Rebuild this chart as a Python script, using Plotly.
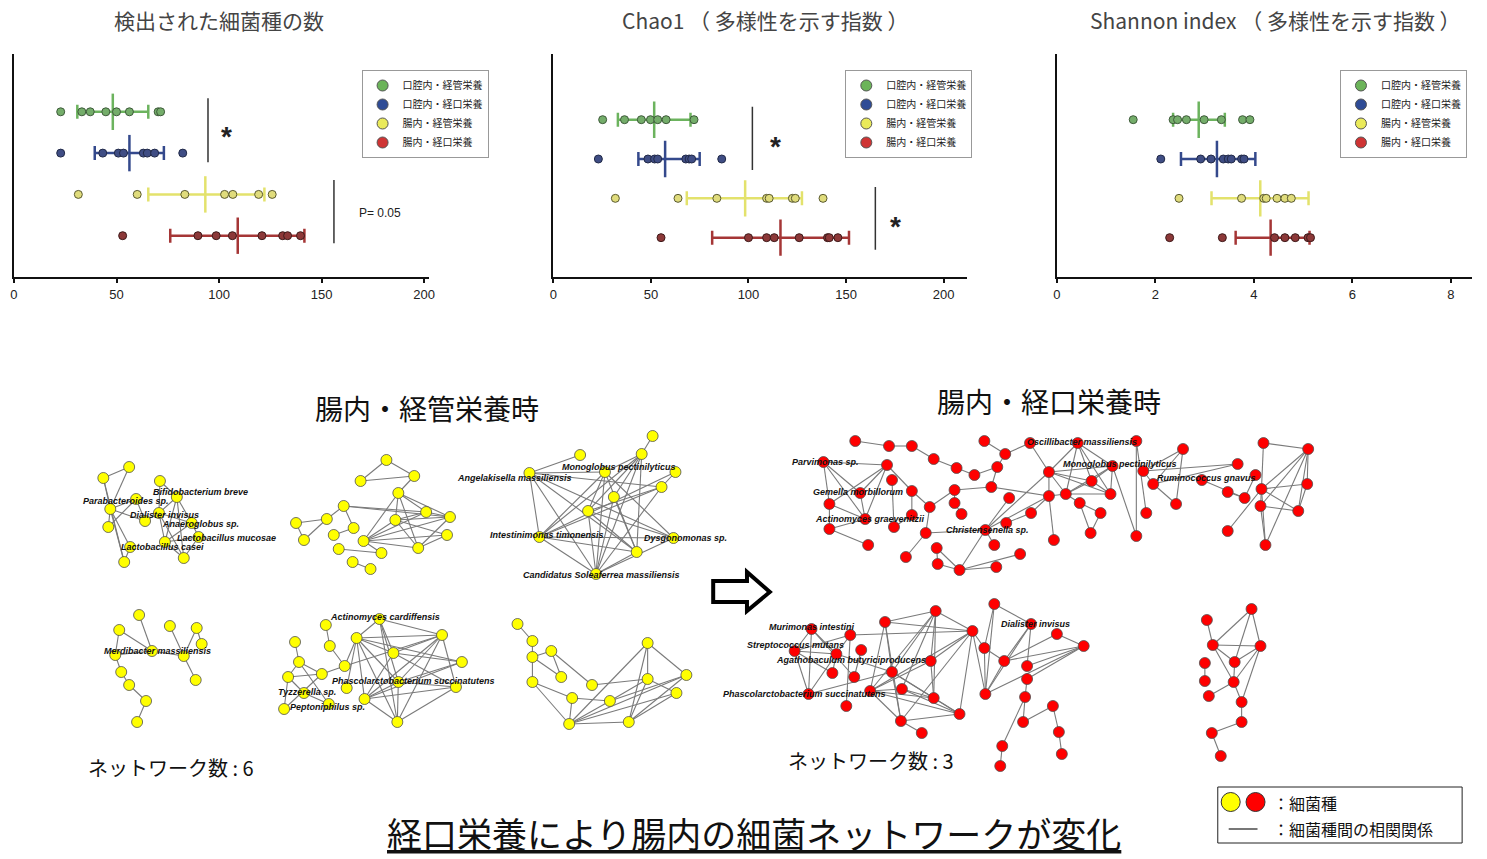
import plotly.graph_objects as go

W, H = 1487, 859
JP = "Noto Sans CJK JP"
LAT = "Liberation Sans, Arial, sans-serif"

GROUPS = ["口腔内・経管栄養", "口腔内・経口栄養", "腸内・経管栄養", "腸内・経口栄養"]
ROWS = [4, 3, 2, 1]

# ---------- Panel 1 : number of detected species ----------
species_pts = [
    [22.8, 33.1, 37.2, 44.8, 50.0, 56.3, 70.3, 71.5],
    [22.8, 43.3, 50.9, 53.4, 63.1, 65.0, 68.6, 82.3],
    [31.4, 60.1, 83.3, 102.7, 106.7, 119.3, 125.9],
    [53.0, 89.7, 98.6, 106.5, 120.9, 131.0, 133.4, 139.7],
]
species_mean = [48.2, 56.3, 93.3, 109.1]
species_lo = [30.9, 39.4, 65.5, 76.2]
species_hi = [65.5, 73.1, 122.1, 141.6]

# ---------- Panel 2 : Chao1 ----------
chao_pts = [
    [25.3, 36.5, 45.1, 49.8, 53.5, 57.8, 72.1],
    [23.1, 48.5, 51.9, 53.5, 67.9, 69.6, 70.9, 86.3],
    [31.8, 63.9, 83.8, 109.3, 110.6, 122.5, 124.0, 138.2],
    [55.2, 100.0, 109.3, 113.2, 126.0, 140.5, 141.4, 145.8],
]
chao_mean = [51.7, 57.3, 98.3, 116.4]
chao_lo = [33.1, 43.6, 68.4, 81.4]
chao_hi = [70.3, 75.0, 127.4, 151.5]

# ---------- Panel 3 : Shannon ----------
shannon_pts = [
    [1.55, 2.36, 2.45, 2.63, 2.99, 3.34, 3.77, 3.92],
    [2.11, 2.92, 3.13, 3.38, 3.48, 3.54, 3.75, 3.80],
    [2.48, 3.75, 4.20, 4.25, 4.47, 4.63, 4.76],
    [2.29, 3.36, 4.42, 4.63, 4.84, 5.10, 5.15],
]
shannon_mean = [2.88, 3.25, 4.13, 4.34]
shannon_lo = [2.36, 2.52, 3.14, 3.63]
shannon_hi = [3.41, 4.03, 5.11, 5.13]

TICKS_123 = [[0, 50, 100, 150, 200], [0, 50, 100, 150, 200], [0, 2, 4, 6, 8]]

LINE_COLORS = ["#6cb35e", "#34498c", "#e3e26c", "#a53636"]
DOT_FILL = ["#74ad6a", "#3f4d84", "#e0dc7c", "#8c3838"]
DOT_EDGE = ["#3e5a3a", "#222a48", "#5a5a30", "#3e1a1a"]
LEG_COLORS = ["#6cb45a", "#2f4c96", "#eaea5a", "#cf3434"]

# ---------- network data (layout positions of nodes, as drawn) ----------
NET_A_NODES = [("a1", 100, 478), ("a2", 126, 467), ("a3", 157, 481), ("a4", 133, 499),
               ("a5", 174, 497), ("a6", 107, 509), ("a7", 156, 513), ("a8", 105, 527),
               ("a9", 142, 521), ("a10", 189, 523), ("a11", 196, 537), ("a12", 162, 542),
               ("a13", 127, 547), ("a14", 121, 562), ("a15", 181, 558)]
NET_A_EDGES = [("a1", "a2"), ("a1", "a6"), ("a1", "a14"), ("a2", "a6"), ("a6", "a4"), ("a6", "a9"),
               ("a4", "a9"), ("a4", "a8"), ("a6", "a8"), ("a6", "a13"), ("a6", "a14"), ("a13", "a14"),
               ("a3", "a5"), ("a3", "a7"), ("a5", "a7"), ("a5", "a10"), ("a5", "a12"), ("a5", "a15"),
               ("a7", "a10"), ("a7", "a12"), ("a7", "a15"), ("a10", "a11"), ("a10", "a12"),
               ("a11", "a12"), ("a11", "a15"), ("a12", "a15"), ("a7", "a9")]

NET_B_NODES = [("b1", 385, 460), ("b2", 359, 481), ("b3", 413, 476), ("b4", 397, 493), ("b5", 342, 506),
               ("b6", 425, 512), ("b7", 449, 517), ("b8", 294, 523), ("b9", 325, 519), ("b10", 394, 520),
               ("b11", 352, 528), ("b12", 332, 535), ("b13", 446, 535), ("b14", 302, 540),
               ("b15", 362, 541), ("b16", 417, 548), ("b17", 337, 549), ("b18", 380, 553),
               ("b19", 351, 562), ("b20", 369, 569)]
NET_B_EDGES = [("b1", "b2"), ("b1", "b3"), ("b2", "b3"), ("b3", "b4"), ("b4", "b10"), ("b4", "b15"),
               ("b4", "b16"), ("b4", "b6"), ("b4", "b7"), ("b5", "b9"), ("b5", "b11"), ("b5", "b6"),
               ("b5", "b7"), ("b8", "b9"), ("b8", "b14"), ("b14", "b9"), ("b12", "b11"), ("b15", "b10"),
               ("b15", "b6"), ("b15", "b7"), ("b15", "b13"), ("b15", "b16"), ("b15", "b18"),
               ("b10", "b7"), ("b10", "b16"), ("b10", "b13"), ("b10", "b6"), ("b6", "b7"), ("b7", "b16"),
               ("b13", "b16"), ("b17", "b18"), ("b19", "b20")]

NET_C_NODES = [("c1", 653, 436), ("c2", 642, 454), ("c3", 580, 455), ("c4", 529, 473), ("c5", 605, 472),
               ("c6", 676, 472), ("c7", 662, 487), ("c8", 614, 497), ("c9", 588, 511), ("c10", 539, 537),
               ("c11", 674, 538), ("c12", 637, 552), ("c13", 596, 574)]
NET_C_EDGES = [("c1", "c2"), ("c2", "c5"), ("c2", "c8"), ("c2", "c9"), ("c2", "c10"), ("c2", "c12"),
               ("c2", "c13"), ("c3", "c4"), ("c4", "c5"), ("c4", "c10"), ("c4", "c13"), ("c4", "c12"),
               ("c4", "c11"), ("c4", "c7"), ("c5", "c9"), ("c5", "c10"), ("c5", "c12"), ("c5", "c13"),
               ("c5", "c11"), ("c6", "c7"), ("c7", "c9"), ("c7", "c10"), ("c7", "c13"), ("c8", "c12"),
               ("c8", "c13"), ("c9", "c11"), ("c9", "c12"), ("c9", "c13"), ("c10", "c11"),
               ("c10", "c12"), ("c10", "c13"), ("c11", "c13"), ("c12", "c13"), ("c6", "c10")]

NET_D_NODES = [("d1", 136, 615), ("d2", 116, 630), ("d3", 167, 626), ("d4", 194, 628), ("d5", 199, 644),
               ("d6", 149, 651), ("d7", 112, 655), ("d8", 181, 656), ("d9", 118, 672), ("d10", 193, 680),
               ("d11", 126, 685), ("d12", 143, 701), ("d13", 134, 722)]
NET_D_EDGES = [("d1", "d6"), ("d2", "d6"), ("d2", "d7"), ("d7", "d6"), ("d6", "d8"), ("d3", "d8"),
               ("d4", "d8"), ("d4", "d5"), ("d8", "d10"), ("d7", "d9"), ("d9", "d11"), ("d11", "d12"),
               ("d12", "d13")]

NET_E_NODES = [("e1", 378, 619), ("e2", 324, 625), ("e3", 441, 635), ("e4", 355, 638), ("e5", 293, 642),
               ("e6", 328, 646), ("e7", 392, 653), ("e8", 461, 662), ("e9", 297, 662), ("e10", 343, 666),
               ("e11", 320, 674), ("e12", 286, 677), ("e13", 397, 682), ("e14", 455, 687),
               ("e15", 345, 688), ("e16", 302, 693), ("e17", 363, 699), ("e18", 327, 704),
               ("e19", 282, 709), ("e20", 396, 722)]
NET_E_EDGES = [("e2", "e6"), ("e6", "e10"), ("e10", "e4"), ("e10", "e11"), ("e5", "e9"), ("e9", "e12"),
               ("e9", "e11"), ("e9", "e18"), ("e12", "e11"), ("e12", "e16"), ("e12", "e19"),
               ("e16", "e18"), ("e11", "e19"), ("e10", "e3"), ("e4", "e1"), ("e4", "e3"), ("e4", "e7"),
               ("e4", "e8"), ("e4", "e13"), ("e4", "e17"), ("e4", "e20"), ("e4", "e15"), ("e1", "e13"),
               ("e1", "e20"), ("e1", "e7"), ("e1", "e3"), ("e3", "e7"), ("e3", "e13"), ("e3", "e17"),
               ("e3", "e20"), ("e3", "e14"), ("e7", "e8"), ("e7", "e14"), ("e7", "e17"), ("e8", "e13"),
               ("e8", "e17"), ("e13", "e14"), ("e13", "e17"), ("e13", "e20"), ("e14", "e17"),
               ("e17", "e20"), ("e14", "e20")]

NET_F_NODES = [("f1", 517, 624), ("f2", 532, 641), ("f3", 551, 651), ("f4", 532, 657), ("f5", 648, 643),
               ("f6", 561, 677), ("f7", 532, 682), ("f8", 592, 685), ("f9", 648, 679), ("f10", 687, 675),
               ("f11", 572, 698), ("f12", 610, 701), ("f13", 677, 693), ("f14", 569, 724),
               ("f15", 629, 722)]
NET_F_EDGES = [("f1", "f2"), ("f2", "f4"), ("f4", "f3"), ("f4", "f6"), ("f3", "f6"), ("f3", "f8"),
               ("f4", "f7"), ("f7", "f11"), ("f7", "f14"), ("f11", "f14"), ("f11", "f12"), ("f8", "f9"),
               ("f5", "f14"), ("f5", "f15"), ("f5", "f9"), ("f5", "f10"), ("f9", "f12"), ("f9", "f13"),
               ("f10", "f12"), ("f10", "f14"), ("f10", "f15"), ("f13", "f14"), ("f13", "f15"),
               ("f9", "f15"), ("f14", "f15"), ("f12", "f14")]

NET_G_NODES = [("g1", 857, 441), ("g2", 891, 446), ("g3", 914, 446), ("g4", 936, 459), ("g5", 959, 468),
               ("g6", 977, 475), ("g7", 1000, 467), ("g8", 1008, 454), ("g9", 987, 441),
               ("g10", 1033, 443), ("g11", 1052, 472), ("g12", 825, 462), ("g13", 889, 465),
               ("g14", 894, 480), ("g15", 862, 493), ("g16", 914, 491), ("g17", 831, 504),
               ("g18", 932, 507), ("g19", 914, 515), ("g20", 867, 519), ("g21", 957, 490),
               ("g22", 957, 503), ("g23", 964, 514), ("g24", 994, 487), ("g25", 831, 529),
               ("g26", 896, 527), ("g27", 928, 533), ("g28", 870, 545), ("g29", 1012, 498),
               ("g30", 1052, 496), ("g31", 1034, 513), ("g32", 1009, 523), ("g33", 988, 530),
               ("g34", 908, 557), ("g35", 939, 548), ("g36", 997, 545), ("g37", 940, 564),
               ("g38", 962, 570), ("g39", 999, 567), ("g40", 1023, 554), ("g41", 1057, 540),
               ("g42", 1069, 494),
               ("h1", 1081, 443), ("h2", 1140, 441), ("h4", 1116, 466), ("h5", 1147, 471),
               ("h6", 1187, 449), ("h7", 1242, 464), ("h8", 1095, 481), ("h9", 1157, 484),
               ("h10", 1206, 480), ("h11", 1260, 475), ("h14", 1114, 494), ("h15", 1083, 503),
               ("h16", 1104, 513), ("h17", 1180, 504), ("h18", 1232, 492), ("h19", 1249, 498),
               ("h20", 1150, 513), ("h22", 1094, 533), ("h23", 1140, 536), ("h24", 1232, 531),
               ("h25", 1268, 443), ("h26", 1313, 449), ("h27", 1312, 484), ("h28", 1266, 489),
               ("h29", 1265, 506), ("h30", 1303, 511), ("h31", 1270, 545)]
NET_G_EDGES = [("g1", "g2"), ("g2", "g3"), ("g3", "g4"), ("g4", "g5"), ("g5", "g6"), ("g6", "g7"),
               ("g7", "g8"), ("g8", "g9"), ("g8", "g10"), ("g10", "g11"), ("g7", "g24"), ("g24", "g21"),
               ("g24", "g30"), ("g21", "g18"), ("g21", "g22"), ("g22", "g23"),
               ("g12", "g13"), ("g12", "g15"), ("g12", "g17"), ("g12", "g20"), ("g13", "g15"),
               ("g13", "g17"), ("g13", "g20"), ("g13", "g16"), ("g14", "g26"), ("g15", "g20"),
               ("g17", "g20"), ("g17", "g25"), ("g20", "g25"), ("g25", "g28"), ("g16", "g19"),
               ("g16", "g18"), ("g19", "g26"), ("g18", "g27"), ("g27", "g33"), ("g27", "g34"),
               ("g33", "g36"), ("g33", "g11"), ("g33", "g30"), ("g33", "g29"), ("g33", "g38"),
               ("g35", "g37"), ("g37", "g38"), ("g35", "g38"), ("g38", "g39"), ("g38", "g40"),
               ("g31", "g30"), ("g32", "g31"), ("g30", "g41"), ("g11", "g42"), ("g30", "g42"),
               ("g11", "g30"),
               ("h1", "g11"), ("h1", "g42"), ("h1", "h8"), ("h1", "h14"), ("h1", "h4"), ("h4", "g11"),
               ("h4", "g42"), ("h4", "h14"), ("h4", "h8"), ("h4", "h23"), ("h2", "h23"), ("h2", "h20"),
               ("g42", "h15"), ("h15", "h16"), ("h16", "h22"), ("h15", "h22"), ("g11", "h14"),
               ("g42", "h14"), ("h8", "h14"), ("g11", "h8"), ("g42", "h8"),
               ("h5", "h6"), ("h5", "h9"), ("h6", "h9"), ("h6", "h17"), ("h9", "h17"), ("h5", "h7"),
               ("h9", "h7"), ("h10", "h19"), ("h18", "h19"), ("h11", "h19"), ("h24", "h28"),
               ("h25", "h26"), ("h25", "h28"), ("h26", "h28"), ("h26", "h29"), ("h26", "h30"),
               ("h26", "h31"), ("h26", "h27"), ("h27", "h30"), ("h28", "h27"), ("h28", "h30"),
               ("h28", "h29"), ("h29", "h31"), ("h29", "h30"), ("h28", "h31")]

NET_K_NODES = [("k1", 813, 629), ("k2", 852, 635), ("k3", 887, 622), ("k4", 938, 611), ("k5", 975, 631),
               ("k6", 863, 650), ("k7", 796, 651), ("k8", 838, 654), ("k9", 933, 661), ("k10", 834, 673),
               ("k11", 856, 677), ("k12", 894, 672), ("k13", 872, 691), ("k14", 904, 689),
               ("k15", 810, 694), ("k16", 848, 706), ("k17", 936, 698), ("k18", 962, 714),
               ("k19", 903, 721), ("k20", 924, 733),
               ("m1", 997, 604), ("m2", 1034, 624), ("m3", 1060, 634), ("m4", 987, 648),
               ("m5", 1087, 646), ("m6", 1007, 661), ("m7", 1030, 666), ("m8", 1030, 679),
               ("m9", 988, 694), ("m10", 1028, 697), ("m11", 1056, 706), ("m12", 1026, 722),
               ("m13", 1062, 732), ("m14", 1005, 746), ("m15", 1065, 754), ("m16", 1003, 766)]
NET_K_EDGES = [("k1", "k7"), ("k1", "k8"), ("k1", "k15"), ("k1", "k11"), ("k2", "k7"), ("k2", "k8"),
               ("k2", "k16"), ("k2", "k5"), ("k7", "k8"), ("k7", "k15"), ("k7", "k10"), ("k8", "k15"),
               ("k8", "k10"), ("k8", "k12"), ("k15", "k12"), ("k6", "k11"), ("k3", "k4"), ("k3", "k5"),
               ("k3", "k13"), ("k3", "k19"), ("k3", "k12"), ("k4", "k5"), ("k4", "k12"), ("k4", "k13"),
               ("k4", "k14"), ("k4", "k17"), ("k4", "k9"), ("k5", "k13"), ("k5", "k9"), ("k5", "k19"),
               ("k5", "k18"), ("k9", "k13"), ("k9", "k17"), ("k12", "k17"), ("k12", "k19"),
               ("k12", "k18"), ("k13", "k17"), ("k13", "k18"), ("k13", "k19"), ("k14", "k17"),
               ("k14", "k18"), ("k14", "k13"), ("k17", "k18"), ("k19", "k18"), ("k19", "k20"),
               ("k5", "m9"), ("k5", "m4"),
               ("m1", "m2"), ("m1", "m4"), ("m1", "m9"), ("m2", "m6"), ("m2", "m7"), ("m2", "m9"),
               ("m3", "m6"), ("m3", "m5"), ("m5", "m6"), ("m5", "m7"), ("m5", "m9"), ("m4", "m9"),
               ("m4", "m6"), ("m6", "m9"), ("m5", "m8"), ("m8", "m10"), ("m10", "m12"),
               ("m12", "m11"), ("m11", "m13"), ("m13", "m15"), ("m10", "m14"), ("m14", "m16")]

NET_N_NODES = [("n1", 1256, 609), ("n2", 1211, 620), ("n3", 1217, 645), ("n4", 1265, 646),
               ("n5", 1209, 663), ("n6", 1239, 662), ("n7", 1209, 681), ("n8", 1238, 682),
               ("n9", 1213, 696), ("n10", 1246, 702), ("n11", 1246, 722), ("n12", 1216, 733),
               ("n13", 1225, 756)]
NET_N_EDGES = [("n1", "n3"), ("n1", "n6"), ("n1", "n4"), ("n2", "n3"), ("n3", "n4"), ("n3", "n6"),
               ("n3", "n8"), ("n4", "n6"), ("n4", "n8"), ("n4", "n10"), ("n6", "n8"), ("n8", "n9"),
               ("n8", "n10"), ("n10", "n11"), ("n11", "n12"), ("n12", "n13"), ("n5", "n7")]

YELLOW_LABELS = [("Bifidobacterium breve", 148, 492), ("Parabacteroides sp.", 78, 501),
                 ("Dialister invisus", 125, 515), ("Anaeroglobus sp.", 157, 524),
                 ("Lactobacillus mucosae", 172, 538), ("Lactobacillus casei", 116, 547),
                 ("Monoglobus pectinilyticus", 560, 467), ("Angelakisella massiliensis", 454, 478),
                 ("Intestinimonas timonensis", 487, 535), ("Dysgonomonas sp.", 642, 538),
                 ("Candidatus Soleaferrea massiliensis", 520, 575),
                 ("Merdibacter massiliensis", 99, 651), ("Actinomyces cardiffensis", 326, 617),
                 ("Phascolarctobacterium succinatutens", 328, 681), ("Tyzzerella sp.", 274, 692),
                 ("Peptoniphilus sp.", 286, 707)]
RED_LABELS = [("Oscillibacter massiliensis", 1028, 442), ("Parvimonas sp.", 791, 462),
              ("Monoglobus pectinilyticus", 1064, 464), ("Ruminococcus gnavus", 1159, 478),
              ("Gemella morbillorum", 812, 492), ("Actinomyces graevenitzii", 814, 519),
              ("Christensenella sp.", 946, 530), ("Murimonas intestini", 768, 627),
              ("Streptococcus mutans", 746, 645), ("Agathobaculum butyriciproducens", 775, 660),
              ("Phascolarctobacterium succinatutens", 722, 694), ("Dialister invisus", 1002, 624)]

fig = go.Figure()

# ---------- top panels ----------
panels = [
    (species_pts, species_mean, species_lo, species_hi),
    (chao_pts, chao_mean, chao_lo, chao_hi),
    (shannon_pts, shannon_mean, shannon_lo, shannon_hi),
]
for p, (pts, mean, lo, hi) in enumerate(panels):
    xa = "x" if p == 0 else f"x{p + 1}"
    ya = "y" if p == 0 else f"y{p + 1}"
    leg = "legend" if p == 0 else f"legend{p + 1}"
    for g in range(4):
        fig.add_trace(go.Scatter(
            x=[mean[g]], y=[ROWS[g]], xaxis=xa, yaxis=ya, mode="markers",
            marker=dict(symbol="line-ns", size=26, color=LINE_COLORS[g],
                        line=dict(color=LINE_COLORS[g], width=2.5)),
            error_x=dict(type="data", symmetric=False, array=[hi[g] - mean[g]],
                         arrayminus=[mean[g] - lo[g]], color=LINE_COLORS[g],
                         thickness=2.5, width=7),
            showlegend=False, hoverinfo="skip"))
        fig.add_trace(go.Scatter(
            x=pts[g], y=[ROWS[g]] * len(pts[g]), xaxis=xa, yaxis=ya, mode="markers",
            marker=dict(size=8, color=DOT_FILL[g], line=dict(color=DOT_EDGE[g], width=1)),
            showlegend=False, hoverinfo="skip"))
    for g in range(4):
        fig.add_trace(go.Scatter(
            x=[None], y=[None], xaxis=xa, yaxis=ya, mode="markers", name=GROUPS[g],
            marker=dict(size=11, color=LEG_COLORS[g], line=dict(color="#555", width=1)),
            legend=leg, showlegend=True))


# ---------- networks ----------
def add_network(nodes, edges, color):
    pos = {n: (x, y) for n, x, y in nodes}
    ex, ey = [], []
    for a, b in edges:
        ex += [pos[a][0], pos[b][0], None]
        ey += [pos[a][1], pos[b][1], None]
    fig.add_trace(go.Scatter(x=ex, y=ey, xaxis="x4", yaxis="y4", mode="lines",
                             line=dict(color="#7a7a7a", width=1.1),
                             showlegend=False, hoverinfo="skip"))
    fig.add_trace(go.Scatter(x=[n[1] for n in nodes], y=[n[2] for n in nodes],
                             xaxis="x4", yaxis="y4", mode="markers",
                             marker=dict(size=11, color=color, line=dict(color="#505050", width=0.8)),
                             showlegend=False, hoverinfo="skip"))


for nodes, edges in [(NET_A_NODES, NET_A_EDGES), (NET_B_NODES, NET_B_EDGES), (NET_C_NODES, NET_C_EDGES),
                     (NET_D_NODES, NET_D_EDGES), (NET_E_NODES, NET_E_EDGES), (NET_F_NODES, NET_F_EDGES)]:
    add_network(nodes, edges, "#ffff00")
for nodes, edges in [(NET_G_NODES, NET_G_EDGES), (NET_K_NODES, NET_K_EDGES), (NET_N_NODES, NET_N_EDGES)]:
    add_network(nodes, edges, "#ff0000")

# legend symbols bottom-right
fig.add_trace(go.Scatter(x=[1235, 1260], y=[802, 802], xaxis="x4", yaxis="y4", mode="markers",
                         marker=dict(size=19, color=["#ffff00", "#ff0000"], line=dict(color="#333", width=1)),
                         showlegend=False, hoverinfo="skip"))

annotations = []
shapes = []


def px(x):
    return x / W


def py(y):
    return 1 - y / H


# titles top
for txt, cx in [("検出された細菌種の数", 216), ("Chao1 （ 多様性を示す指数 ）", 766),
                ("Shannon index （ 多様性を示す指数 ）", 1280)]:
    annotations.append(dict(text=txt, x=px(cx), y=py(20), xref="paper", yref="paper",
                            showarrow=False, xanchor="center", yanchor="middle",
                            font=dict(family=JP, size=21, color="#444")))

# significance brackets
shapes += [
    dict(type="line", xref="x", yref="y", x0=94.6, x1=94.6, y0=2.78, y1=4.33, line=dict(color="#333", width=1.5)),
    dict(type="line", xref="x", yref="y", x0=156, x1=156, y0=0.82, y1=2.35, line=dict(color="#333", width=1.5)),
    dict(type="line", xref="x2", yref="y2", x0=102, x1=102, y0=2.72, y1=4.33, line=dict(color="#333", width=1.5)),
    dict(type="line", xref="x2", yref="y2", x0=165, x1=165, y0=0.69, y1=2.29, line=dict(color="#333", width=1.5)),
]
for xr, yr, x, y in [("x", "y", 103.5, 3.4), ("x2", "y2", 113.8, 3.33), ("x2", "y2", 175.3, 1.29)]:
    annotations.append(dict(text="<b>*</b>", x=x, y=y, xref=xr, yref=yr, showarrow=False,
                            font=dict(family=LAT, size=28, color="#222")))
annotations.append(dict(text="P= 0.05", x=167, y=1.56, xref="x", yref="y", showarrow=False,
                        xanchor="left", font=dict(family=LAT, size=12, color="#222")))

# network labels
for txt, x, y in YELLOW_LABELS + RED_LABELS:
    annotations.append(dict(text=f"<b><i>{txt}</i></b>", x=x, y=y, xref="x4", yref="y4",
                            showarrow=False, xanchor="left", yanchor="middle",
                            font=dict(family=LAT, size=9, color="#111")))

# bottom titles
for txt, cx, cy, sz in [("腸内・経管栄養時", 426, 408, 28), ("腸内・経口栄養時", 1052, 401, 28),
                        ("ネットワーク数 : 6", 168, 767, 20), ("ネットワーク数 : 3", 873, 760, 20)]:
    annotations.append(dict(text=txt, x=cx, y=cy, xref="x4", yref="y4", showarrow=False,
                            xanchor="center", yanchor="middle",
                            font=dict(family=JP, size=sz, color="#111")))
annotations.append(dict(text="<u>経口栄養により腸内の細菌ネットワークが変化</u>", x=755, y=832,
                        xref="x4", yref="y4", showarrow=False, xanchor="center", yanchor="middle",
                        font=dict(family=JP, size=35, color="#111")))

# bottom-right legend box
shapes.append(dict(type="rect", xref="x4", yref="y4", x0=1222, x1=1468, y0=787, y1=843,
                   line=dict(color="#222", width=1), fillcolor="rgba(0,0,0,0)", layer="below"))
shapes.append(dict(type="line", xref="x4", yref="y4", x0=1233, x1=1262, y0=829, y1=829,
                   line=dict(color="#777", width=2)))
annotations.append(dict(text="：細菌種", x=1276, y=803, xref="x4", yref="y4", showarrow=False,
                        xanchor="left", font=dict(family=JP, size=16, color="#111")))
annotations.append(dict(text="：細菌種間の相関関係", x=1276, y=829, xref="x4", yref="y4", showarrow=False,
                        xanchor="left", font=dict(family=JP, size=16, color="#111")))

# arrow
shapes.append(dict(type="path", xref="x4", yref="y4",
                   path="M 714 581 L 748 581 L 748 572 L 771 592 L 748 611 L 748 602 L 714 602 Z",
                   line=dict(color="#000", width=4), fillcolor="white"))

ydom = [1 - 277 / H, 1 - 54 / H]
axis_common = dict(showline=True, linewidth=2, linecolor="#111", showgrid=False, zeroline=False,
                   ticks="outside", ticklen=4, tickwidth=1.5, tickcolor="#111",
                   tickfont=dict(family=LAT, size=13, color="#222"), fixedrange=True)
yaxis_common = dict(showline=True, linewidth=2, linecolor="#111", showgrid=False, zeroline=False,
                    showticklabels=False, ticks="", fixedrange=True)

legend_common = dict(bordercolor="#999", borderwidth=1, bgcolor="white",
                     font=dict(family=JP, size=10, color="#222"), xanchor="left", yanchor="top",
                     tracegroupgap=0, itemwidth=30)

fig.update_layout(
    width=W, height=H, margin=dict(l=0, r=0, t=0, b=0),
    paper_bgcolor="white", plot_bgcolor="rgba(0,0,0,0)",
    xaxis=dict(domain=[10 / W, 428 / W], range=[0, 202.4], tickvals=TICKS_123[0], anchor="y", **axis_common),
    yaxis=dict(domain=ydom, range=[0, 5.4], anchor="x", **yaxis_common),
    xaxis2=dict(domain=[553 / W, 970 / W], range=[0, 212.2], tickvals=TICKS_123[1], anchor="y2", **axis_common),
    yaxis2=dict(domain=ydom, range=[0, 5.67], anchor="x2", **yaxis_common),
    xaxis3=dict(domain=[1060 / W, 1478 / W], range=[0, 8.43], tickvals=TICKS_123[2], anchor="y3", **axis_common),
    yaxis3=dict(domain=ydom, range=[0, 5.67], anchor="x3", **yaxis_common),
    xaxis4=dict(domain=[0, 1], range=[0, W], visible=False, anchor="y4", fixedrange=True),
    yaxis4=dict(domain=[0, 1], range=[H, 0], visible=False, anchor="x4", fixedrange=True),
    legend=dict(x=360 / W, y=1 - 70 / H, **legend_common),
    legend2=dict(x=847 / W, y=1 - 70 / H, **legend_common),
    legend3=dict(x=1345 / W, y=1 - 70 / H, **legend_common),
    annotations=annotations, shapes=shapes, showlegend=True,
)

fig.write_html("out.html", config={"displayModeBar": False},
               post_script="document.body.style.margin='0px';document.body.style.overflow='hidden';")
